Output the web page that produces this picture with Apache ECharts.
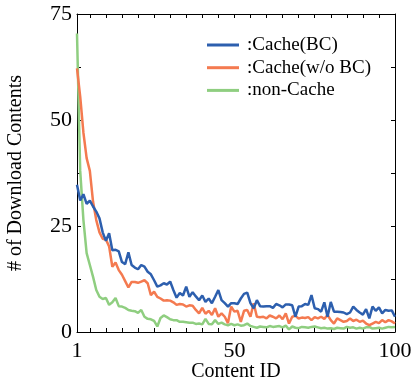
<!DOCTYPE html>
<html>
<head>
<meta charset="utf-8">
<script src="https://cdn.jsdelivr.net/npm/echarts@6/dist/echarts.min.js"></script>
<style>
  html, body { margin: 0; padding: 0; background: #fff; }
  #main { width: 412px; height: 378px; }
</style>
</head>
<body>
<div id="main"></div>
<script>
// 数据
const contentIds = Array.from({ length: 100 }, (_, i) => i + 1)
const cacheBC = [
  34.7, 31, 32.5, 30.2, 31, 29.6, 28.4, 26.8, 23.5, 21.5,
  23.3, 19.3, 19.4, 19, 16.5, 16, 18.8, 15.8, 15.2, 14.8,
  15.8, 15.4, 14.2, 13.6, 12.2, 10.7, 11, 11.5, 11.2, 11.9,
  9.9, 8.1, 9.2, 8.6, 10.7, 8.3, 9.4, 8.4, 7.5, 8.6,
  7.1, 7.9, 6.8, 8.3, 9.9, 7.5, 6.8, 6, 6.8, 6.8,
  6.6, 7.9, 9, 9.3, 6.8, 5.6, 7.5, 6.1, 6, 6.1,
  6.1, 5.7, 6.6, 6.3, 5.8, 6.5, 6.5, 6.3, 3.6, 6,
  6.1, 6.6, 6.4, 8.7, 5.6, 5.4, 4.8, 7, 3.6, 7.1,
  4.8, 4.8, 4.7, 4.6, 4.2, 4.6, 6, 5.2, 4.6, 4.1,
  5.4, 3.2, 6, 5, 5.8, 4.4, 5.2, 5, 5.1, 3.6
]
const cacheNoBC = [
  62.2, 55.5, 47, 41, 38, 30.7, 26.4, 23.5, 22, 21.8,
  20.2, 15.4, 16.4, 14.6, 13.5, 12, 10.5, 11.8, 11.8, 11.6,
  11.9, 12.2, 11.5, 8.7, 9.5, 8.3, 7.9, 7.4, 7.5, 7.4,
  7, 6.4, 6.6, 6.5, 6, 6.3, 6.2, 5.2, 4.4, 5.7,
  4.3, 5, 4, 5.6, 3.6, 4.4, 3.6, 2.1, 6, 4.8,
  5, 2.4, 5, 5.2, 3.6, 6.8, 3.6, 3.5, 3.6, 3.2,
  3.9, 3.6, 3.2, 3.9, 3, 4.4, 2, 3.6, 3.8, 3.2,
  3.4, 3.3, 3.5, 2.8, 3.5, 3.2, 3.6, 3.1, 4, 2.8,
  2, 3.2, 2.8, 2.4, 2.6, 3.2, 2.6, 2.9, 2.4, 2.7,
  2, 1.6, 2, 2.4, 2.1, 2.8, 2.3, 2.8, 2.5, 2
]
const nonCache = [
  70.4, 38, 26.4, 18.6, 15.8, 13, 9.9, 8.3, 7.8, 8,
  6.4, 7, 8, 6.1, 6, 5.7, 5.2, 5, 4.9, 4.5,
  5.2, 3.6, 3.1, 3, 2.6, 1.3, 3.3, 3.9, 3.5, 3,
  2.8, 2.8, 2.4, 2.4, 2.3, 2.2, 2.2, 1.9, 2, 1.8,
  3.1, 1.9, 1.8, 2.8, 1.9, 2.2, 1.8, 1.6, 1.9, 1.6,
  1.8, 1.5, 1.6, 2, 1.4, 1.2, 1, 1.3, 1.2, 1.1,
  1.4, 1.2, 1.3, 1.4, 1.1, 1.5, 0.6, 1.3, 1, 0.9,
  1.2, 1.1, 1, 1.2, 1.3, 1.1, 0.9, 1, 0.8, 0.9,
  0.7, 1, 0.9, 0.8, 1.2, 1, 1.1, 0.8, 1, 0.8,
  1.1, 1.2, 0.8, 0.9, 1, 0.8, 1, 1.2, 1.1, 1.2
]
const xLabels = [1, 50, 100]
const xTicks = [5, 10, 15, 20, 25, 30, 35, 40, 45, 50, 55, 60, 65, 70, 75, 80, 85, 90, 95]
const yLabels = [0, 25, 50, 75]
const yTicks = [12.5, 25, 37.5, 50, 62.5]

const font = 'Liberation Serif'
const toPairs = arr => arr.map((v, i) => [contentIds[i], v])

const axisCommon = {
    axisLine: { show: true, onZero: false, lineStyle: { color: '#000', width: 1 } },
    splitLine: { show: false }
}

const myChart = echarts.init(document.getElementById('main'))
myChart.setOption({
    animation: false,
    textStyle: { fontFamily: font },
    grid: { left: 77, right: 17, top: 14, bottom: 46, outerBoundsMode: 'none', containLabel: false },
    legend: {
        orient: 'vertical',
        left: 202,
        top: 30.5,
        itemWidth: 32,
        itemHeight: 3,
        itemGap: 3.7,
        icon: 'rect',
        textStyle: { fontFamily: font, fontSize: 19, lineHeight: 19, color: '#000', padding: [0, 0, 0, 3] },
        data: [':Cache(BC)', ':Cache(w/o BC)', ':non-Cache']
    },
    xAxis: [
        {
            ...axisCommon,
            type: 'value', min: 1, max: 100, position: 'bottom',
            name: 'Content ID', nameLocation: 'middle', nameGap: 30, nameMoveOverlap: false,
            nameTextStyle: { fontFamily: font, fontSize: 20, color: '#000' },
            axisTick: { inside: true, length: 4, customValues: xTicks, lineStyle: { color: '#000' } },
            axisLabel: { customValues: xLabels, margin: 8, fontFamily: font, fontSize: 22, color: '#000' }
        },
        {
            ...axisCommon,
            type: 'value', min: 1, max: 100, position: 'top',
            axisTick: { inside: true, length: 4, customValues: xTicks, lineStyle: { color: '#000' } },
            axisLabel: { show: false }
        }
    ],
    yAxis: [
        {
            ...axisCommon,
            type: 'value', min: 0, max: 75, position: 'left',
            name: '# of Download Contents', nameLocation: 'middle', nameGap: 51, nameMoveOverlap: false,
            nameTextStyle: { fontFamily: font, fontSize: 20, color: '#000' },
            axisTick: { inside: true, length: 4, customValues: yTicks, lineStyle: { color: '#000' } },
            axisLabel: { customValues: yLabels, margin: 5, fontFamily: font, fontSize: 22, color: '#000' }
        },
        {
            ...axisCommon,
            type: 'value', min: 0, max: 75, position: 'right',
            axisTick: { inside: true, length: 4, customValues: yTicks, lineStyle: { color: '#000' } },
            axisLabel: { show: false }
        }
    ],
    series: [
        {
            name: ':Cache(BC)', type: 'line', data: toPairs(cacheBC),
            showSymbol: false, symbol: 'none',
            itemStyle: { color: '#2d5fae' },
            lineStyle: { color: '#2d5fae', width: 2.5 },
            z: 4
        },
        {
            name: ':Cache(w/o BC)', type: 'line', data: toPairs(cacheNoBC),
            showSymbol: false, symbol: 'none',
            itemStyle: { color: '#f47a50' },
            lineStyle: { color: '#f47a50', width: 2.5 },
            z: 3
        },
        {
            name: ':non-Cache', type: 'line', data: toPairs(nonCache),
            showSymbol: false, symbol: 'none',
            itemStyle: { color: '#8fce80' },
            lineStyle: { color: '#8fce80', width: 2.5 },
            z: 2
        }
    ]
})
</script>
</body>
</html>
